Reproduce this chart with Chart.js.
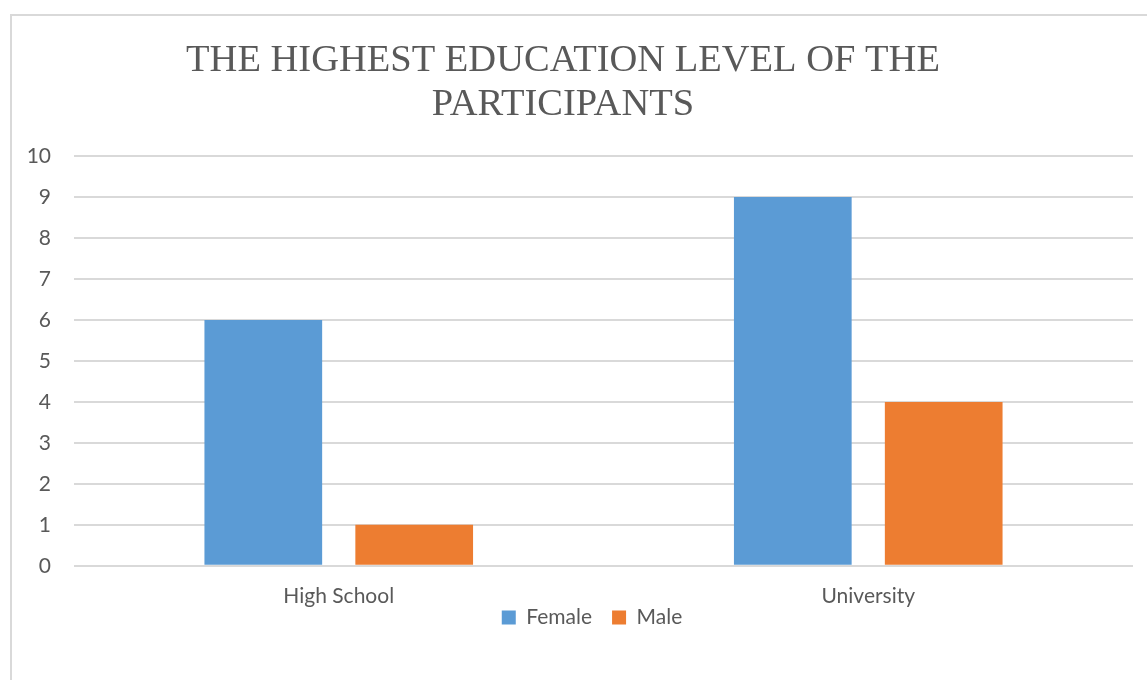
<!DOCTYPE html>
<html>
<head>
<meta charset="utf-8">
<script src="https://cdn.jsdelivr.net/npm/chart.js@4/dist/chart.umd.min.js"></script>
<style>
  html, body { margin: 0; padding: 0; background: #ffffff; }
  #wrap { position: relative; width: 1147px; height: 680px; }
</style>
</head>
<body>
<div id="wrap"><canvas id="c" width="1147" height="680"></canvas></div>
<script>
const categories = ['High School', 'University'];
const seriesNames = ['Female', 'Male'];
const femaleValues = [6, 9];
const maleValues = [1, 4];
const yMin = 0;
const yMax = 10;
const yStep = 1;
const titleLines = ['THE HIGHEST EDUCATION LEVEL OF THE', 'PARTICIPANTS'];

const TEXT = '#595959';
const GRID = '#d9d9d9';
const SANS = 'Lato, "Open Sans", sans-serif';

const tweak = {
  id: 'tweak',
  afterLayout(chart) {
    const t = chart.titleBlock;
    if (t) {
      const w = t.right - t.left;
      const c = 563;
      t.left = c - w / 2; t.right = c + w / 2;
    }
    const l = chart.legend;
    if (l) {
      const w = l.right - l.left;
      const c = 592;
      l.left = c - w / 2; l.right = c + w / 2;
      const h = l.bottom - l.top;
      l.top = 587; l.bottom = l.top + h;
    }
  },
  beforeDraw(chart) {
    const ctx = chart.ctx;
    ctx.save();
    ctx.strokeStyle = GRID;
    ctx.lineWidth = 2;
    ctx.beginPath();
    ctx.moveTo(11, 680);
    ctx.lineTo(11, 15);
    ctx.lineTo(1147, 15);
    ctx.stroke();
    ctx.restore();
  }
};

new Chart(document.getElementById('c'), {
  type: 'bar',
  data: {
    labels: categories,
    datasets: [
      { label: seriesNames[0], data: femaleValues, backgroundColor: '#5B9BD5', borderWidth: 0 },
      { label: seriesNames[1], data: maleValues, backgroundColor: '#ED7D31', borderWidth: 0 }
    ]
  },
  options: {
    responsive: false,
    animation: false,
    devicePixelRatio: 1,
    layout: { padding: { left: 0, right: 14, top: 0, bottom: 2 } },
    datasets: { bar: { categoryPercentage: 0.57, barPercentage: 0.78 } },
    plugins: {
      title: {
        display: true,
        text: titleLines,
        color: TEXT,
        font: { family: '"Liberation Serif", "DejaVu Serif", serif', size: 38.5, weight: 'normal', lineHeight: 1.156 },
        padding: { top: 38.5, bottom: 28.5 }
      },
      legend: {
        display: true,
        position: 'bottom',
        labels: {
          color: TEXT,
          font: { family: SANS, size: 21 },
          boxWidth: 14,
          boxHeight: 14,
          padding: 20
        }
      },
      tooltip: { enabled: false }
    },
    scales: {
      x: {
        grid: { display: false, drawTicks: false },
        border: { display: false },
        ticks: { color: TEXT, font: { family: SANS, size: 21 }, padding: 18, maxRotation: 0 }
      },
      y: {
        min: yMin,
        max: yMax,
        grid: { color: GRID, lineWidth: 2, drawTicks: false },
        border: { display: false },
        ticks: { stepSize: yStep, color: TEXT, font: { family: SANS, size: 21 }, padding: 23 },
        afterFit(scale) { scale.width = 74; }
      }
    }
  },
  plugins: [tweak]
});
</script>
</body>
</html>
